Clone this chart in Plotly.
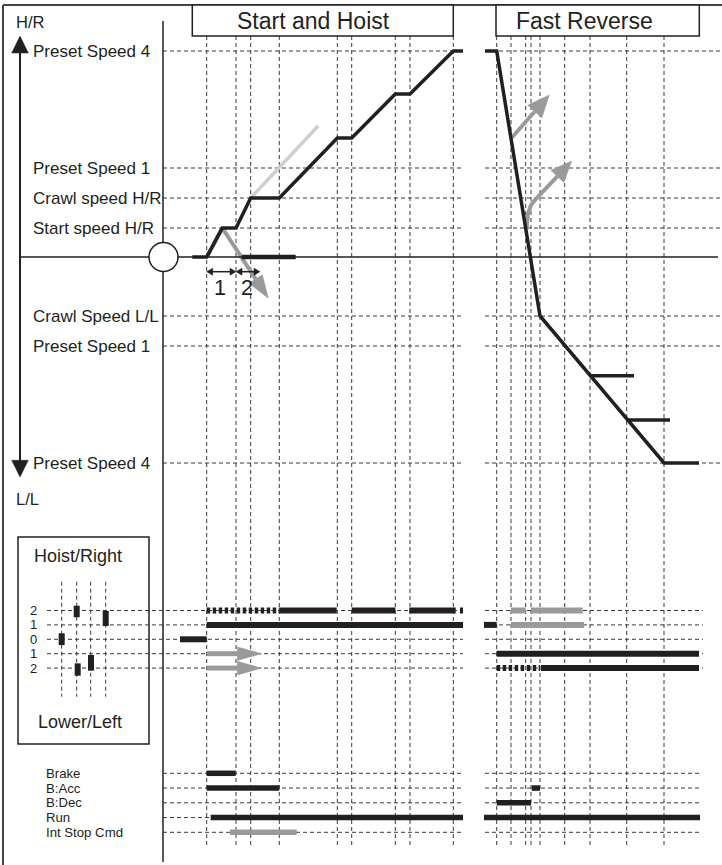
import math
import plotly.graph_objects as go

# ---------------------------------------------------------------------------
# Time axis: 0 at the speed axis, events of the two sequences
T_HOIST = [43.7, 73.0, 87.7, 116.3, 174.3, 188.7, 232.3, 247.0, 290.3]
T_REVERSE = [333.7, 348.0, 362.7, 368.0, 377.0, 401.7, 427.0, 463.7, 501.0]

# Speed reference levels (positive = hoist/right, negative = lower/left)
LEVEL_NAMES = ["Preset Speed 4", "Preset Speed 1", "Crawl speed H/R", "Start speed H/R",
               "Crawl Speed L/L", "Preset Speed 1", "Preset Speed 4"]
LEVEL_VALUES = [206, 89, 59, 29, -59, -89, -206]

# Speed profile: start and hoist
HOIST_T = [29.3, 43.7, 59.3, 73.0, 87.7, 116.3, 174.3, 188.7, 232.3, 247.0, 290.3, 300.0]
HOIST_V = [0, 0, 29, 29, 59, 59, 119, 119, 163, 163, 206, 206]

# Full-rate ramp reference from crawl speed
RAMP_T = [87.7, 155.3]
RAMP_V = [59, 131.3]

# Brake trial at start speed and the fallback if it fails
TRIAL_T = [44.5, 59.3, 105.3]
TRIAL_V = [1, 29, -41.3]

# Brake-open hold at zero speed
HOLD_T = [78.7, 132.7]
HOLD_V = [0, 0]

# Interval markers 1 and 2
DIM_T = [43.7, 73.0, 97.0]
DIM_V = -14.7
DIM_LABELS = ["1", "2"]

# Speed profile: fast reverse
REV_T = [322.0, 333.7, 377.0, 501.0, 536.0]
REV_V = [206, 206, -59, -206, -206]
STEP_T0 = [427.0, 463.7]
STEP_T1 = [471.0, 507.0]
STEP_V = [-118.7, -163.0]

# Speed commands re-applied while reversing
REV_CMD_A_T = [348.7, 386.3]
REV_CMD_A_V = [119.3, 162.0]
REV_CMD_B_T = [363.7, 365.0, 368.0, 372.0, 408.7]
REV_CMD_B_V = [29.0, 43.0, 52.0, 57.0, 96.0]

# Joystick positions
SW_ROWS = [2, 1, 0, -1, -2]
SW_LABELS = ["2", "1", "0", "1", "2"]
JOY_T = [-101.3, -86.3, -85.3, -72.0, -57.3]
JOY_TOP = [0.42, 2.33, -1.67, -1.09, 1.97]
JOY_BOT = [-0.40, 1.53, -2.53, -2.18, 0.92]
JOY_GRID_T = [-101.3, -86.3, -72.3, -57.3]

# Switch states over time: row, start, end
SW_ON_ROW = [0, 1, 2, 2, 2, 2, 1, -1, -2]
SW_ON_T0 = [17.0, 43.7, 116.3, 188.7, 246.3, 297.0, 321.0, 333.7, 378.0]
SW_ON_T1 = [43.7, 300.0, 173.7, 232.3, 292.7, 300.0, 333.7, 536.0, 536.0]
SW_PULSE_ROW = [2, -2]
SW_PULSE_T0 = [43.7, 333.7]
SW_PULSE_T1 = [116.3, 377.0]
SW_HELD_ROW = [2, 2, 1]
SW_HELD_T0 = [348.0, 368.0, 348.0]
SW_HELD_T1 = [362.7, 419.7, 421.0]
SW_NEXT_ROW = [-1, -2]
SW_NEXT_T0 = [43.7, 43.7]
SW_NEXT_T1 = [98.7, 98.7]

# Control signals
SIG_NAMES = ["Brake", "B:Acc", "B:Dec", "Run", "Int Stop Cmd"]
SIG_ON_NAME = ["Brake", "B:Acc", "Run", "B:Acc", "B:Dec", "Run"]
SIG_ON_T0 = [43.7, 43.7, 47.7, 368.7, 333.7, 321.0]
SIG_ON_T1 = [72.7, 116.3, 300.0, 377.0, 368.0, 537.0]
SIG_CMD_NAME = ["Int Stop Cmd"]
SIG_CMD_T0 = [67.0]
SIG_CMD_T1 = [133.7]

# ---------------------------------------------------------------------------
INK = "#231f20"
GRAY = "#9a9a9a"
LIGHT = "#cfcfcf"
GRID = "#3a3a3a"
FONT = "Liberation Sans, Arial, sans-serif"
DASH = "4px,3px"

ROW_PX = 14.4
SIG_PX = 14.75

fig = go.Figure()


def seg_xy(t0s, t1s, ys):
    xs, yy = [], []
    for a, b, y in zip(t0s, t1s, ys):
        xs += [a, b, None]
        yy += [y, y, None]
    return xs, yy


def add_line(x, y, color, width, axis="y", dash=None):
    fig.add_trace(go.Scatter(x=x, y=y, mode="lines", yaxis=axis, hoverinfo="skip",
                             line=dict(color=color, width=width, dash=dash)))


def add_poly(x, y, color, axis="y"):
    fig.add_trace(go.Scatter(x=x, y=y, mode="lines", fill="toself", fillcolor=color,
                             yaxis=axis, hoverinfo="skip", line=dict(color=color, width=0.5)))


def head(tip, back, length, half):
    dx, dy = tip[0] - back[0], tip[1] - back[1]
    n = math.hypot(dx, dy)
    ux, uy = dx / n, dy / n
    bx, by = tip[0] - ux * length, tip[1] - uy * length
    px, py = -uy * half, ux * half
    return (bx, by), [tip[0], bx + px, bx - px, tip[0]], [tip[1], by + py, by - py, tip[1]]


def arrow_path(ts, vs, color, width, length, half):
    base, hx, hy = head((ts[-1], vs[-1]), (ts[-2], vs[-2]), length, half)
    add_line(list(ts[:-1]) + [base[0]], list(vs[:-1]) + [base[1]], color, width)
    add_poly(hx, hy, color)


# --- grid (drawn beneath the traces) --------------------------------------
shapes = []


def hline(y, t0, t1, yref="y"):
    shapes.append(dict(type="line", xref="x", yref=yref, x0=t0, x1=t1, y0=y, y1=y,
                       layer="below", line=dict(color=GRID, width=1, dash=DASH)))


def vline(t, v0, v1):
    shapes.append(dict(type="line", xref="x", yref="y", x0=t, x1=t, y0=v0, y1=v1,
                       layer="below", line=dict(color=GRID, width=1, dash=DASH)))


for t in T_HOIST + T_REVERSE:
    vline(t, 221, -591)
for t in JOY_GRID_T:
    vline(t, -324.7, -439.7)
for v in LEVEL_VALUES:
    hline(v, 0, 300)
    hline(v, 322, 557)
for r in SW_ROWS:
    hline(r, -116, 300, "y2")
    hline(r, 322, 540, "y2")
for name in SIG_NAMES:
    hline(name, 0, 300, "y3")
    hline(name, 322, 539, "y3")


def solid(x0, y0, x1, y1, w=1.5, color=INK):
    shapes.append(dict(type="line", xref="x", yref="y", x0=x0, x1=x1, y0=y0, y1=y1,
                       line=dict(color=color, width=w)))


def box(x0, y0, x1, y1, w=1.5, fill=None, layer="above"):
    shapes.append(dict(type="rect", xref="x", yref="y", x0=x0, x1=x1, y0=y0, y1=y1,
                       layer=layer, fillcolor=fill, line=dict(color=INK, width=w)))


# frame, headers, axes
solid(-160, 252, 559, 252, 2, "#444")
solid(-160, 252, -160, -608, 2, "#444")
box(29.3, 252, 290.3, 221, 1.5, "white")
box(333, 252, 536.3, 221, 1.5, "white")
box(-145, -280, -14, -487, 1.5, None, "below")
solid(0, 236, 0, -605, 1.5)
solid(-143, 0, 555, 0, 1.5)
solid(-143, 205, -143, -204, 2)

# --- speed profiles -------------------------------------------------------
add_line(RAMP_T, RAMP_V, LIGHT, 3.5)
add_line(TRIAL_T[:2], TRIAL_V[:2], GRAY, 4)
arrow_path(TRIAL_T[1:], TRIAL_V[1:], GRAY, 4, 23, 8)
add_line(HOIST_T, HOIST_V, INK, 3.5)
add_line(HOLD_T, HOLD_V, INK, 4.5)
arrow_path(REV_CMD_A_T, REV_CMD_A_V, GRAY, 4, 22, 9.5)
arrow_path(REV_CMD_B_T, REV_CMD_B_V, GRAY, 4, 21, 9)
add_line(REV_T, REV_V, INK, 3.5)
sx, sy = seg_xy(STEP_T0, STEP_T1, STEP_V)
add_line(sx, sy, INK, 3.5)

# interval markers 1 and 2
for a, b in zip(DIM_T[:-1], DIM_T[1:]):
    add_line([a + 5, b - 5], [DIM_V, DIM_V], INK, 1.5)
    add_poly([a, a + 6, a + 6, a], [DIM_V, DIM_V + 3.5, DIM_V - 3.5, DIM_V], INK)
    add_poly([b, b - 6, b - 6, b], [DIM_V, DIM_V + 3.5, DIM_V - 3.5, DIM_V], INK)

# --- joystick panel -------------------------------------------------------
for t, a, b in zip(JOY_T, JOY_TOP, JOY_BOT):
    shapes.append(dict(type="rect", xref="x", yref="y2", x0=t - 3, x1=t + 3, y0=b, y1=a,
                       fillcolor=INK, line=dict(width=0)))

x, y = seg_xy(SW_ON_T0, SW_ON_T1, SW_ON_ROW)
add_line(x, y, INK, 6, "y2")
x, y = seg_xy(SW_PULSE_T0, SW_PULSE_T1, SW_PULSE_ROW)
add_line(x, y, INK, 6, "y2", "3.5px,2.5px")
x, y = seg_xy(SW_HELD_T0, SW_HELD_T1, SW_HELD_ROW)
add_line(x, y, GRAY, 6, "y2")
for r, a, b in zip(SW_NEXT_ROW, SW_NEXT_T0, SW_NEXT_T1):
    hh = 6.8 / ROW_PX
    add_line([a, b - 24], [r, r], GRAY, 5, "y2")
    add_poly([b, b - 24.4, b - 24.4, b], [r, r + hh, r - hh, r], GRAY, "y2")

# --- control signals ------------------------------------------------------
x, y = seg_xy(SIG_ON_T0, SIG_ON_T1, SIG_ON_NAME)
add_line(x, y, INK, 5.5, "y3")
x, y = seg_xy(SIG_CMD_T0, SIG_CMD_T1, SIG_CMD_NAME)
add_line(x, y, GRAY, 5.5, "y3")

# circle at the origin and the axis arrow heads
shapes.append(dict(type="circle", xref="x", yref="y", x0=-14, x1=15, y0=-14.5, y1=14.5,
                   fillcolor="white", line=dict(color=INK, width=1.5)))
add_poly([-143, -151.3, -134.7, -143], [221, 204, 204, 221], INK)
add_poly([-143, -151.3, -134.7, -143], [-220, -203.3, -203.3, -220], INK)

# --- text -----------------------------------------------------------------
ann = []


def text(t, y, s, size, anchor="left", yref="y", height=None):
    a = dict(x=t, y=y, xref="x", yref=yref, text=s, showarrow=False,
             xanchor=anchor, yanchor="middle", borderpad=0,
             font=dict(family=FONT, size=size, color=INK))
    if height:
        a["height"] = height
        a["valign"] = "middle"
    ann.append(a)


for name, v in zip(LEVEL_NAMES, LEVEL_VALUES):
    text(-131, v, name, 17)
text(-148, 235.5, "H/R", 16.5)
text(-148, -242, "L/L", 16.5)
text(150.8, 236.5, "Start and Hoist", 23, "center")
text(421.5, 236.5, "Fast Reverse", 23, "center")
for lab, a, b in zip(DIM_LABELS, DIM_T[:-1], DIM_T[1:]):
    text((a + b) / 2 - 1.5, -31, lab, 21.5, "center")
text(-85, -298.7, "Hoist/Right", 18, "center")
text(-83, -465, "Lower/Left", 18, "center")
# row labels sit about 14.5 px apart, so they use a compact size
for r, lab in zip(SW_ROWS, SW_LABELS):
    text(-129.5, r, lab, 13, "center", "y2", 13)
for name in SIG_NAMES:
    text(-118, name, name, 13.2, "left", "y3")

sw_lo = -(865 - 639.3) / ROW_PX
sw_hi = 639.3 / ROW_PX
sig_lo = (865 - 773.3) / SIG_PX
sig_hi = -773.3 / SIG_PX

fig.update_layout(
    width=722, height=865, margin=dict(l=0, r=0, t=0, b=0, pad=0),
    paper_bgcolor="white", plot_bgcolor="white", showlegend=False,
    xaxis=dict(range=[-163, 559], visible=False, fixedrange=True),
    yaxis=dict(range=[-608, 257], visible=False, fixedrange=True),
    yaxis2=dict(range=[sw_lo, sw_hi], overlaying="y", visible=False, fixedrange=True),
    yaxis3=dict(type="category", categoryorder="array", categoryarray=SIG_NAMES,
                range=[sig_lo, sig_hi], overlaying="y", visible=False, fixedrange=True),
    shapes=shapes, annotations=ann,
)

fig.write_html("out.html", config={"displayModeBar": False},
               post_script="document.body.style.margin='0';")
